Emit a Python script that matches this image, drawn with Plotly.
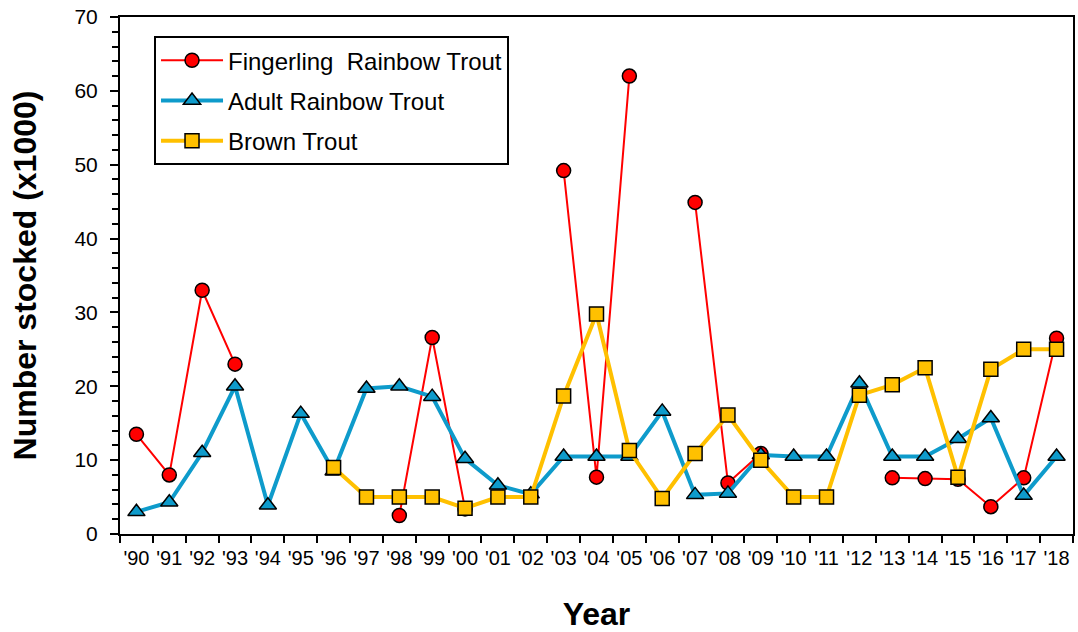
import plotly.graph_objects as go

years = ["'90", "'91", "'92", "'93", "'94", "'95", "'96", "'97", "'98", "'99",
         "'00", "'01", "'02", "'03", "'04", "'05", "'06", "'07", "'08", "'09",
         "'10", "'11", "'12", "'13", "'14", "'15", "'16", "'17", "'18"]

fingerling = [13.5, 8.0, 33.0, 23.0, None, None, None, None, 2.5, 26.6,
              3.4, None, None, 49.2, 7.7, 62.0, None, 44.9, 6.9, 10.9,
              None, None, None, 7.6, 7.5, 7.4, 3.7, 7.6, 26.5]

adult = [3.0, 4.3, 11.0, 20.0, 3.9, 16.3, 8.5, 19.7, 20.0, 18.6,
         10.2, 6.6, 5.4, 10.5, 10.5, 10.5, 16.6, 5.3, 5.5, 10.7,
         10.5, 10.5, 20.4, 10.5, 10.5, 12.9, 15.7, 5.2, 10.5]

brown = [None, None, None, None, None, None, 9.0, 5.0, 5.0, 5.0,
         3.5, 5.0, 5.0, 18.7, 29.8, 11.3, 4.8, 10.9, 16.1, 10.0,
         5.0, 5.0, 18.8, 20.2, 22.5, 7.7, 22.3, 25.0, 25.0]

fig = go.Figure()
fig.add_trace(go.Scatter(
    x=years, y=fingerling, name="Fingerling  Rainbow Trout", mode="lines+markers",
    line=dict(color="#FF0000", width=2), connectgaps=False, legendgroup="a",
    marker=dict(symbol="circle", size=14, color="#FF0000", line=dict(color="black", width=1.5))))
fig.add_trace(go.Scatter(
    x=years, y=adult, name="Adult Rainbow Trout", mode="lines+markers",
    line=dict(color="#0E9BCB", width=4), legendgroup="b",
    marker=dict(symbol="triangle-up", size=15, color="#0E9BCB", line=dict(color="black", width=1.5))))
fig.add_trace(go.Scatter(
    x=years, y=brown, name="Brown Trout", mode="lines+markers",
    line=dict(color="#FFC000", width=4), connectgaps=False, legendgroup="c",
    marker=dict(symbol="square", size=14, color="#FFC000", line=dict(color="black", width=1.5))))

fig.update_layout(
    width=1078, height=632,
    margin=dict(l=120, r=5, t=17, b=98),
    paper_bgcolor="white", plot_bgcolor="white",
    font=dict(family="Arial, Liberation Sans, sans-serif", color="black", size=20),
    showlegend=True,
    legend=dict(x=0.0357, y=0.963, xanchor="left", yanchor="top",
                bordercolor="black", borderwidth=2, bgcolor="white",
                font=dict(size=24), tracegroupgap=6, itemwidth=62),
    xaxis=dict(type="category", range=[-0.5, 28.5], tickson="boundaries",
               ticks="outside", ticklen=7, tickwidth=2, tickcolor="black",
               showline=True, linecolor="black", linewidth=2, mirror=True,
               showgrid=False, tickfont=dict(size=20), tickangle=0, automargin=False,
               ticklabelstandoff=5, ticklabeloverflow="allow",
               title=dict(text="<b>Year</b>", font=dict(size=32), standoff=40)),
    yaxis=dict(range=[0, 70], dtick=10, ticks="outside", ticklen=8, tickwidth=2,
               tickcolor="black", showline=True, linecolor="black", linewidth=2,
               mirror=True, showgrid=False, zeroline=False, tickfont=dict(size=21),
               ticklabelstandoff=8, automargin=False, ticklabeloverflow="allow",
               minor=dict(dtick=2, ticks="outside", ticklen=6, tickwidth=2, tickcolor="black"),
               title=dict(text="<b>Number stocked (x1000)</b>", font=dict(size=32), standoff=28)),
)

fig.write_html("out.html", config={"displayModeBar": False},
               post_script="document.body.style.margin='0';document.body.style.overflow='hidden';")
